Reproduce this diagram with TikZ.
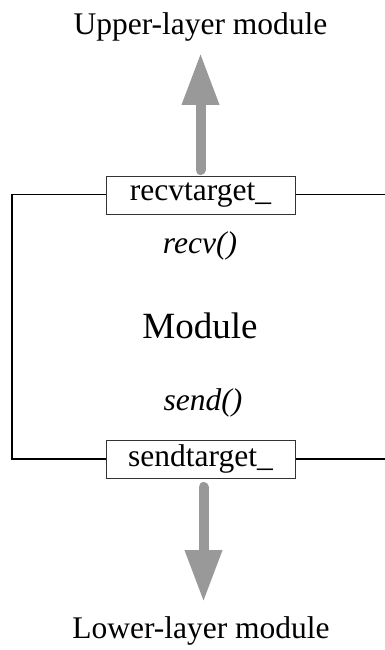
\documentclass[tikz,border=0pt]{standalone}
\usepackage{fontspec}
\setmainfont{Liberation Serif}
\newfontfamily\labelfont{Liberation Serif}
\usetikzlibrary{arrows.meta}
\begin{document}
\begin{tikzpicture}[x=1pt,y=-1pt,
  label text/.style={font=\labelfont\fontsize{31.5}{36}\selectfont, inner sep=0pt, anchor=base},
  method text/.style={label text, font=\labelfont\fontsize{31.5}{36}\selectfont\itshape},
  target box/.style={draw=black!80, line width=1pt, fill=white, minimum width=189pt,
    minimum height=38pt, inner sep=0pt, font=\labelfont\fontsize{31.5}{36}\selectfont},
  wire/.style={line width=1.3pt, black},
  flow/.style={line width=10pt, color=black!40, line cap=round,
    -{Triangle[length=52pt,width=35pt]}}
  ]
  \useasboundingbox (0,0) rectangle (385,650);

  % texts
  \node[label text] (upper) at (200.5,35) {Upper-layer module};
  \node[label text] (lower) at (201,638) {Lower-layer module};
  \node[label text, font=\labelfont\fontsize{37}{42}\selectfont] (module) at (200,338) {Module};
  \node[method text] (recvm) at (200,253) {recv()};
  \node[method text] (sendm) at (203,410) {send()};

  % module outline and target boxes
  \coordinate (tl) at (12,194.5);
  \coordinate (bl) at (12,459);
  \coordinate (tr) at (385,194.5);
  \coordinate (br) at (385,459);
  \node[target box] (recv) at (200.5,195) {recvtarget\_};
  \node[target box] (send) at (200.5,459) {sendtarget\_};
  \draw[wire] (recv.west |- tl) -- (tl) -- (bl) -- (send.west |- bl);
  \draw[wire] (recv.east |- tr) -- (tr);
  \draw[wire] (send.east |- br) -- (br);

  % data flow arrows
  \coordinate (upstart) at (200.5,170);
  \coordinate (uptip) at (200.5,53);
  \coordinate (downstart) at (203.5,487);
  \coordinate (downtip) at (203.5,602);
  \draw[flow] (upstart) -- (uptip);
  \draw[flow] (downstart) -- (downtip);
\end{tikzpicture}
\end{document}
